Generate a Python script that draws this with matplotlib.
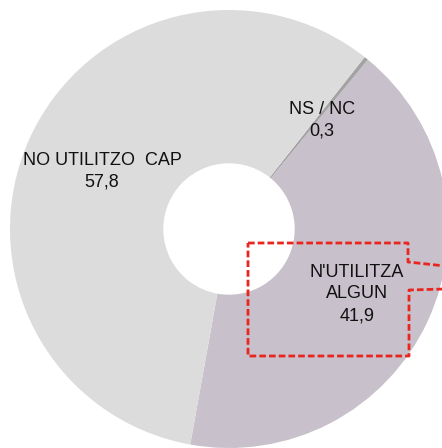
import matplotlib
matplotlib.use("Agg")
import matplotlib.pyplot as plt

# data
categories = ["N'UTILITZA\nALGUN", "NS / NC", "NO UTILITZO  CAP"]
values = [41.9, 0.3, 57.8]
value_labels = ["41,9", "0,3", "57,8"]
colors = ["#c8c0ca", "#a3a3a3", "#dcdcdc"]

plt.rcParams['font.family'] = ['Liberation Sans', 'DejaVu Sans']

W, H = 442, 448          # figure size in px
cx, cy, R = 229, 229, 219  # pie centre / radius in px (from top-left)


def px(x, y):
    # pixel position (top-left origin) -> data coords (pie radius = 1)
    return (x - cx) / R, (cy - y) / R


fig = plt.figure(figsize=(W / 100, H / 100), dpi=100)
ax = fig.add_axes([0, 0, 1, 1])

ax.pie(values, colors=colors, startangle=-100.2, counterclock=True,
       radius=1, wedgeprops=dict(width=0.7, linewidth=0))

# labels
label_pos = [(357, 294), (322, 120), (102, 171)]
for cat, val, (lx, ly) in zip(categories, value_labels, label_pos):
    x, y = px(lx, ly)
    ax.text(x, y, cat + "\n" + val, ha="center", va="center",
            fontsize=13, color="#111111", linespacing=1.38)

# red dashed callout box round the N'UTILITZA label
box = [(248, 243), (408, 243), (408, 262), (445, 266)]
box2 = [(445, 289), (409, 290), (409, 356), (248, 356), (248, 243)]
for pts in (box, box2):
    xs, ys = zip(*[px(*p) for p in pts])
    ax.plot(xs, ys, color="#e8261f", lw=2.0, dashes=(2.4, 1.1),
            solid_capstyle="butt", clip_on=False)

ax.set_xlim(px(0, 0)[0], px(W, 0)[0])
ax.set_ylim(px(0, H)[1], px(0, 0)[1])
ax.set_aspect("equal")
ax.set_axis_off()

fig.savefig("out.png", dpi=100)
